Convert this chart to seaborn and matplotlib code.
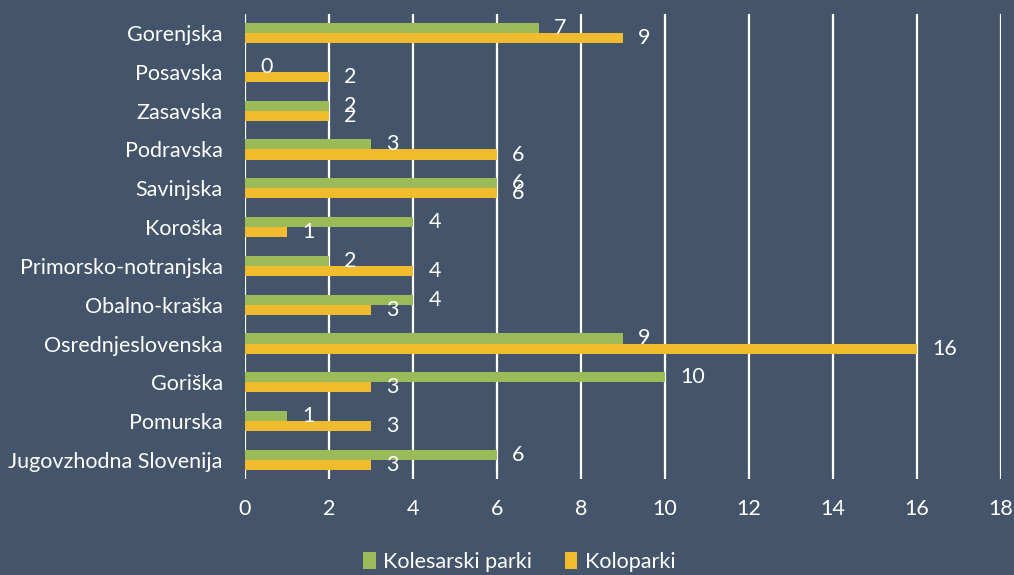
import matplotlib
matplotlib.use("Agg")
import matplotlib.pyplot as plt
import seaborn as sns
import pandas as pd

regions = ["Gorenjska", "Posavska", "Zasavska", "Podravska", "Savinjska", "Koroška",
           "Primorsko-notranjska", "Obalno-kraška", "Osrednjeslovenska", "Goriška",
           "Pomurska", "Jugovzhodna Slovenija"]
kolesarski_parki = [7, 0, 2, 3, 6, 4, 2, 4, 9, 10, 1, 6]
koloparki = [9, 2, 2, 6, 6, 1, 4, 3, 16, 3, 3, 3]
series_names = ["Kolesarski parki", "Koloparki"]
x_ticks = [0, 2, 4, 6, 8, 10, 12, 14, 16, 18]

BG = "#44546A"
GREEN = "#9BBB59"
YELLOW = "#F0BC2E"

df = pd.DataFrame({
    "regija": regions * 2,
    "vrednost": kolesarski_parki + koloparki,
    "vrsta": [series_names[0]] * len(regions) + [series_names[1]] * len(regions),
})

sns.set_theme(style="white")
plt.rcParams["font.family"] = ["Lato", "DejaVu Sans"]

fig = plt.figure(figsize=(10.14, 5.75), dpi=100, facecolor=BG)
ax = fig.add_axes([0.2416, 0.1663, 0.7456, 0.81])
ax.set_facecolor(BG)

sns.barplot(data=df, y="regija", x="vrednost", hue="vrsta", orient="h",
            order=regions, hue_order=series_names,
            palette=[GREEN, YELLOW], width=0.52, saturation=1,
            edgecolor="none", ax=ax, legend=True)

ax.set_xlim(0, 18)
ax.set_xticks(x_ticks)
ax.set_xticklabels([str(t) for t in x_ticks])
ax.set_xlabel("")
ax.set_ylabel("")
ax.set_axisbelow(True)
ax.grid(axis="x", color="white", linewidth=1.6)
ax.grid(axis="y", visible=False)
for s in ax.spines.values():
    s.set_visible(False)

FS = 15.5
ax.tick_params(axis="x", colors="white", labelsize=FS, pad=14, length=0)
ax.tick_params(axis="y", colors="white", labelsize=FS, pad=16, length=0)

for cont in ax.containers:
    ax.bar_label(cont, labels=[f"{int(v)}" for v in cont.datavalues],
                 padding=11, color="white", fontsize=FS)

handles, labels = ax.get_legend_handles_labels()
ax.get_legend().remove()
leg = fig.legend(handles, labels, loc="center", bbox_to_anchor=(0.512, 0.022), ncol=2,
                 frameon=False, fontsize=FS, handlelength=0.6, handleheight=0.85,
                 handletextpad=0.35, columnspacing=1.5, borderpad=0)
for t in leg.get_texts():
    t.set_color("white")

fig.savefig("out.png", dpi=100, facecolor=BG)
